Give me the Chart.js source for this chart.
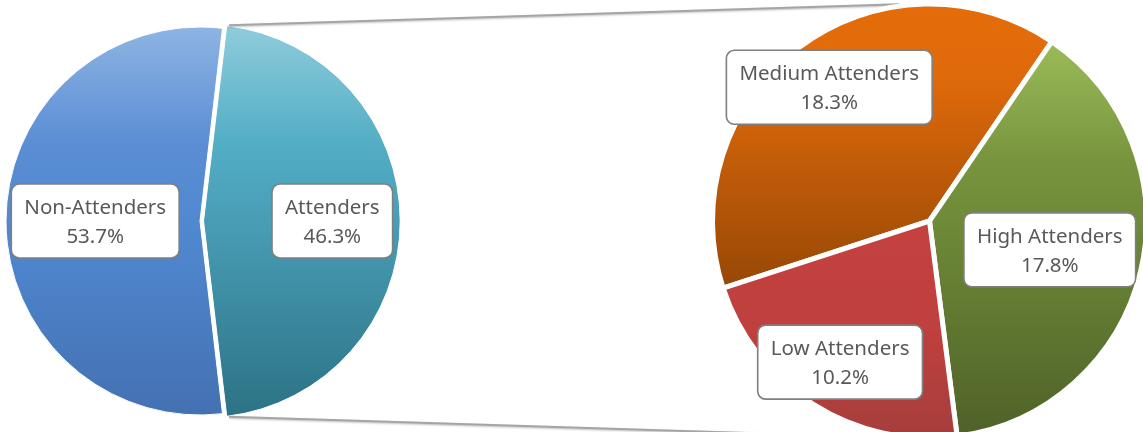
<!DOCTYPE html>
<html>
<head>
<meta charset="utf-8">
<script src="https://cdn.jsdelivr.net/npm/chart.js@4.4.1/dist/chart.umd.min.js"></script>
<style>
  html, body { margin: 0; padding: 0; background: #fff; }
  #stage { position: relative; width: 1143px; height: 432px; overflow: hidden; }
  .layer { position: absolute; left: 0; top: 0; width: 1143px; height: 442px; }
</style>
</head>
<body>
<div id="stage">
  <div class="layer"><canvas id="main-pie"></canvas></div>
  <div class="layer"><canvas id="split-pie"></canvas></div>
</div>
<script>
// data
const MAIN_LABELS  = ['Non-Attenders', 'Attenders'];
const MAIN_VALUES  = [53.7, 46.3];
const SPLIT_LABELS = ['Medium Attenders', 'High Attenders', 'Low Attenders'];
const SPLIT_VALUES = [18.3, 17.8, 10.2];

// look
const MAIN_STOPS = [
    [[0, '#8EB4E3'], [0.3, '#5A8ED4'], [0.55, '#4F87CF'], [1, '#4471B2']],
    [[0, '#8ECBDB'], [0.3, '#52AEC5'], [0.55, '#4699B1'], [1, '#2C7385']],
];
const SPLIT_STOPS = [
    [[0, '#E46C0A'], [0.25, '#E06A0A'], [1, '#974806']],
    [[0, '#9BBB59'], [0.3, '#78953D'], [1, '#4F6228']],
    [[0, '#C4413F'], [0.5, '#BF403E'], [1, '#A63E3C']],
];
const MAIN_LABEL_DIST  = [0.54, 0.65];
const SPLIT_LABEL_DIST = [0.77, 0.57, 0.77];

const MAIN_RADIUS  = 194;
const SPLIT_RADIUS = 217;
const MAIN_ROTATION  = 90 + MAIN_VALUES[1] / (MAIN_VALUES[0] + MAIN_VALUES[1]) * 180;
const SPLIT_ROTATION = 252;

const LABEL_FONT = '20.5px "Noto Sans", sans-serif';
const TEXT_COLOR = '#595959';

const toRad = d => d * Math.PI / 180;

// vertical gradient over the bounding box of each slice
function sliceFill(stopsList, rotation, radius) {
    return (c) => {
        if (c.dataIndex === undefined) return '#888';
        const stops = stopsList[c.dataIndex];
        const area = c.chart.chartArea;
        if (!area) return stops[0][1];
        const data = c.chart.data.datasets[0].data;
        const total = data.reduce((a, b) => a + b, 0);
        const before = data.slice(0, c.dataIndex).reduce((a, b) => a + b, 0);
        const a0 = toRad(rotation - 90) + before / total * 2 * Math.PI;
        const a1 = a0 + data[c.dataIndex] / total * 2 * Math.PI;
        const cy = (area.top + area.bottom) / 2;
        let lo = cy, hi = cy;
        for (let k = 0; k <= 60; k++) {
            const y = cy + radius * Math.sin(a0 + (a1 - a0) * k / 60);
            lo = Math.min(lo, y);
            hi = Math.max(hi, y);
        }
        const g = c.chart.ctx.createLinearGradient(0, lo, 0, hi);
        stops.forEach(([p, col]) => g.addColorStop(p, col));
        return g;
    };
}

// same shift that ArcElement.draw applies for `offset`
function arcShift(arc) {
    const off = (arc.options.offset || 0) / 4;
    const mid = (arc.startAngle + arc.endAngle) / 2;
    const circ = arc.endAngle - arc.startAngle;
    const t = off * (1 + 1 - Math.sin(Math.min(Math.PI, circ)));
    return { x: Math.cos(mid) * t, y: Math.sin(mid) * t };
}

function roundRect(ctx, x, y, w, h, r) {
    ctx.beginPath();
    ctx.moveTo(x + r, y);
    ctx.arcTo(x + w, y, x + w, y + h, r);
    ctx.arcTo(x + w, y + h, x, y + h, r);
    ctx.arcTo(x, y + h, x, y, r);
    ctx.arcTo(x, y, x + w, y, r);
    ctx.closePath();
}

const boxLabels = {
    id: 'boxLabels',
    afterDatasetsDraw(chart, args, opts) {
        const { ctx } = chart;
        const ds = chart.data.datasets[0];
        ctx.save();
        ctx.font = LABEL_FONT;
        chart.getDatasetMeta(0).data.forEach((arc, i) => {
            const mid = (arc.startAngle + arc.endAngle) / 2;
            const s = arcShift(arc);
            const d = arc.outerRadius * opts.dist[i];
            const cx = arc.x + s.x + Math.cos(mid) * d;
            const cy = arc.y + s.y + Math.sin(mid) * d;
            const lines = [chart.data.labels[i], ds.data[i].toFixed(1) + '%'];
            const w = Math.max(...lines.map(t => ctx.measureText(t).width)) + 26;
            const h = 74;
            roundRect(ctx, cx - w / 2, cy - h / 2, w, h, 8);
            ctx.fillStyle = '#fff';
            ctx.fill();
            ctx.lineWidth = 1.6;
            ctx.strokeStyle = '#7F7F7F';
            ctx.stroke();
            ctx.fillStyle = TEXT_COLOR;
            ctx.textAlign = 'center';
            ctx.textBaseline = 'alphabetic';
            ctx.fillText(lines[0], cx, cy - 7);
            ctx.fillText(lines[1], cx, cy + 22);
        });
        ctx.restore();
    },
};

let mainChart;

// lines from the exploded slice to the second pie
const connectors = {
    id: 'connectors',
    beforeDatasetsDraw(chart) {
        if (!mainChart) return;
        const att = mainChart.getDatasetMeta(0).data[1];
        const s = arcShift(att);
        const ax = att.x + s.x, ay = att.y + s.y, ar = att.outerRadius + 3;
        const right = chart.getDatasetMeta(0).data[0];
        const rr = right.outerRadius + 2;
        const ends = [
            [att.startAngle, -Math.PI / 2 - toRad(8)],
            [att.endAngle,    Math.PI / 2 + toRad(8)],
        ];
        const ctx = chart.ctx;
        ctx.save();
        ctx.strokeStyle = '#A5A5A5';
        ctx.lineWidth = 2;
        ctx.shadowColor = 'rgba(0,0,0,0.25)';
        ctx.shadowBlur = 2;
        ctx.shadowOffsetY = 1;
        ends.forEach(([a, b]) => {
            ctx.beginPath();
            ctx.moveTo(ax + Math.cos(a) * ar, ay + Math.sin(a) * ar);
            ctx.lineTo(right.x + Math.cos(b) * rr, right.y + Math.sin(b) * rr);
            ctx.stroke();
        });
        ctx.restore();
    },
};

const COMMON = {
    responsive: true,
    maintainAspectRatio: false,
    animation: false,
    events: [],
    plugins: { legend: { display: false }, tooltip: { enabled: false } },
};

mainChart = new Chart(document.getElementById('main-pie'), {
    type: 'pie',
    data: {
        labels: MAIN_LABELS,
        datasets: [{
            data: MAIN_VALUES,
            backgroundColor: sliceFill(MAIN_STOPS, MAIN_ROTATION, MAIN_RADIUS),
            borderColor: '#fff',
            borderWidth: 1,
            offset: [0, 14],
        }],
    },
    options: {
        ...COMMON,
        rotation: MAIN_ROTATION,
        radius: MAIN_RADIUS,
        layout: { padding: { left: 6, right: 749, top: 27, bottom: 27 } },
        plugins: { ...COMMON.plugins, boxLabels: { dist: MAIN_LABEL_DIST } },
    },
    plugins: [boxLabels],
});

new Chart(document.getElementById('split-pie'), {
    type: 'pie',
    data: {
        labels: SPLIT_LABELS,
        datasets: [{
            data: SPLIT_VALUES,
            backgroundColor: sliceFill(SPLIT_STOPS, SPLIT_ROTATION, SPLIT_RADIUS),
            borderColor: '#fff',
            borderWidth: 5,
        }],
    },
    options: {
        ...COMMON,
        rotation: SPLIT_ROTATION,
        radius: SPLIT_RADIUS,
        layout: { padding: { left: 716, right: 0, top: 4, bottom: 4 } },
        plugins: { ...COMMON.plugins, boxLabels: { dist: SPLIT_LABEL_DIST } },
    },
    plugins: [connectors, boxLabels],
});
</script>
</body>
</html>
